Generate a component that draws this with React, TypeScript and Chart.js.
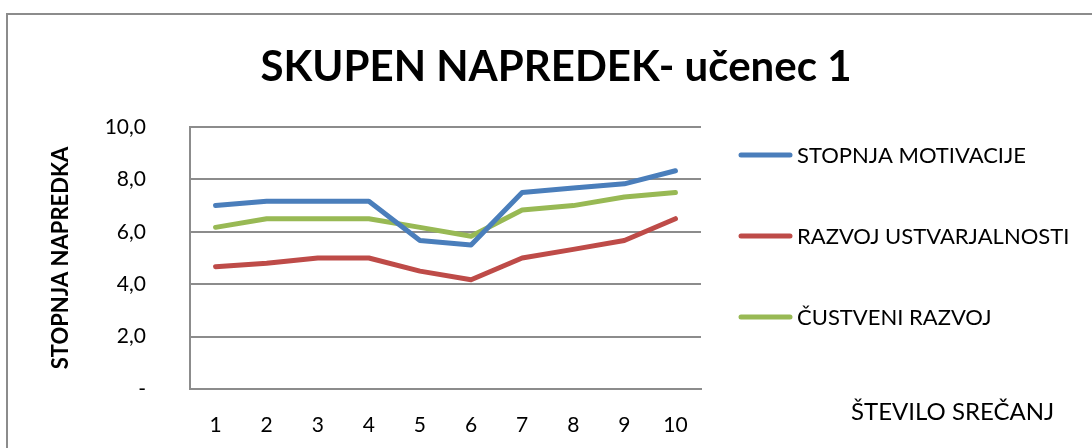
import React, { useEffect, useRef } from "react";
import { Chart, registerables } from "chart.js";

Chart.register(...registerables);

const categories = ["1", "2", "3", "4", "5", "6", "7", "8", "9", "10"];
const seriesNames = ["STOPNJA MOTIVACIJE", "RAZVOJ USTVARJALNOSTI", "ČUSTVENI RAZVOJ"];
const motivacija = [7.0, 7.17, 7.17, 7.17, 5.67, 5.5, 7.5, 7.67, 7.83, 8.33];
const ustvarjalnost = [4.67, 4.8, 5.0, 5.0, 4.5, 4.17, 5.0, 5.33, 5.67, 6.5];
const custveni = [6.17, 6.5, 6.5, 6.5, 6.17, 5.83, 6.83, 7.0, 7.33, 7.5];
const seriesColors = ["#4a7ebb", "#be4b48", "#98b954"];
const chartTitle = "SKUPEN NAPREDEK- učenec 1";
const yTitle = "STOPNJA NAPREDKA";
const xTitle = "ŠTEVILO SREČANJ";

const FONT = "Lato, 'Open Sans', sans-serif";

const textPlugin = {
  id: "customText",
  afterDraw(chart: any) {
    const ctx = chart.ctx as CanvasRenderingContext2D;
    ctx.save();
    // Title
    ctx.fillStyle = "#000";
    ctx.textAlign = "center";
    ctx.textBaseline = "middle";
    ctx.font = `bold 42px ${FONT}`;
    ctx.fillText(chartTitle, 556, 67);

    // Y axis title
    ctx.save();
    ctx.translate(61, 258);
    ctx.rotate(-Math.PI / 2);
    ctx.font = `bold 22px ${FONT}`;
    ctx.fillText(yTitle, 0, 0);
    ctx.restore();

    // Legend
    const ys = [155, 236, 317];
    ctx.textAlign = "left";
    ctx.font = `22px ${FONT}`;
    chart.data.datasets.forEach((ds: any, i: number) => {
      ctx.strokeStyle = ds.borderColor;
      ctx.lineWidth = 5;
      ctx.lineCap = "round";
      ctx.beginPath();
      ctx.moveTo(741, ys[i]);
      ctx.lineTo(790, ys[i]);
      ctx.stroke();
      ctx.fillStyle = "#000";
      ctx.fillText(ds.label, 797, ys[i] + 1);
    });

    // X axis title
    ctx.font = `24px ${FONT}`;
    ctx.fillText(xTitle, 851, 412);
    ctx.restore();
  },
};

export default function App() {
  const ref = useRef<HTMLCanvasElement>(null);
  useEffect(() => {
    if (!ref.current) return;
    const chart = new Chart(ref.current, {
      type: "line",
      data: {
        labels: categories,
        datasets: [motivacija, ustvarjalnost, custveni].map((d, i) => ({
          label: seriesNames[i],
          data: d,
          borderColor: seriesColors[i],
          backgroundColor: seriesColors[i],
          borderWidth: 5,
          pointRadius: 0,
          tension: 0,
          borderCapStyle: "round" as const,
          borderJoinStyle: "round" as const,
        })),
      },
      options: {
        responsive: false,
        animation: false,
        layout: { padding: { top: 127, left: 40, right: 391, bottom: 0 } },
        plugins: {
          legend: { display: false },
          title: { display: false },
          tooltip: { enabled: false },
        },
        scales: {
          x: {
            offset: true,
            grid: { display: false, drawTicks: false },
            border: { display: true, color: "#8c8c8c", width: 2 },
            ticks: { color: "#000", font: { family: FONT, size: 21 }, padding: 24 },
            afterFit: (s: any) => { s.height = 59; },
          },
          y: {
            min: 0,
            max: 10,
            ticks: {
              stepSize: 2,
              color: "#000",
              font: { family: FONT, size: 21 },
              padding: 44,
              callback: (v: any) => (Number(v) === 0 ? "-" : Number(v).toFixed(1).replace(".", ",")),
            },
            grid: { color: "#8c8c8c", lineWidth: 2, drawTicks: false },
            border: { display: true, color: "#8c8c8c", width: 2 },
            afterFit: (s: any) => { s.width = 150; },
          },
        },
      },
      plugins: [textPlugin],
    });
    return () => chart.destroy();
  }, []);
  return (
    <div style={{ position: "absolute", left: 0, top: 0, width: 1092, height: 448, background: "#fff", overflow: "hidden" }}>
      <div style={{ position: "absolute", left: 6, top: 13, width: 1200, height: 600, borderTop: "2px solid #8c8c8c", borderLeft: "2px solid #8c8c8c" }} />
      <canvas ref={ref} width={1092} height={448} style={{ position: "absolute", left: 0, top: 0 }} />
    </div>
  );
}
